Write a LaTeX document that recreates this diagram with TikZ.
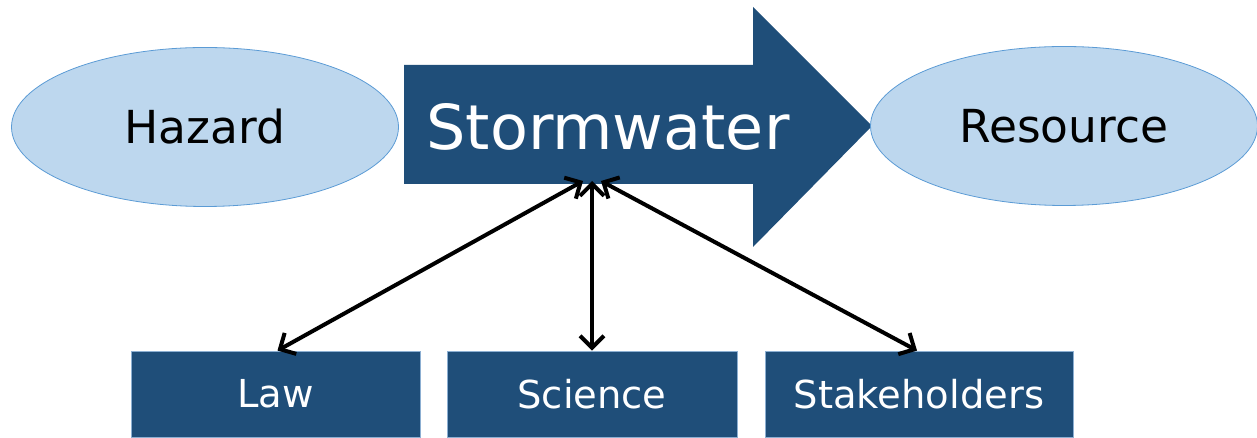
\documentclass[tikz,border=0pt]{standalone}
\usepackage{fontspec}
\setmainfont{DejaVu Sans}
\usetikzlibrary{arrows.meta,shapes.geometric}
\definecolor{navy}{RGB}{31,78,121}
\definecolor{paleblue}{RGB}{189,215,238}
\definecolor{edgeblue}{RGB}{91,155,213}
\definecolor{boxedge}{RGB}{140,175,210}
\tikzset{
  x=1pt, y=1pt,
  oval/.style={ellipse, fill=paleblue, draw=edgeblue, line width=0.8pt,
    minimum width=387, minimum height=159, inner sep=0pt, font=\fontsize{45.5}{46}\selectfont},
  pillar/.style={rectangle, fill=navy, draw=boxedge, line width=0.8pt,
    minimum height=86, inner sep=0pt, text=white, font=\fontsize{38.5}{39}\selectfont},
  link/.style={line width=4pt, {Straight Barb[length=12pt,width=24pt]}-{Straight Barb[length=12pt,width=24pt]}}
}
\begin{document}
\begin{tikzpicture}
\useasboundingbox (0,0) rectangle (1257,438);
% big flow arrow: body and head
\fill[navy] (404,373) -- (753,373) -- (753,431) -- (872,312) -- (753,191) -- (753,254) -- (404,254) -- cycle;
\node[inner sep=0pt, text=white,
  font=\fontsize{62}{62}\selectfont] (storm) at (608,311) {Stormwater};
\coordinate (hub) at (592,257);
% end states
\node[oval] (hazard) at (205,311) {Hazard};
\node[oval] (resource) at (1064,312) {Resource};
% supporting pillars
\node[pillar, minimum width=289] (law) at (275.5,44) {Law};
\node[pillar, minimum width=290] (science) at (592,44) {Science};
\node[pillar, minimum width=308] (stake) at (919,44) {Stakeholders};
% two-way links
\draw[link] ([xshift=-9]hub) -- ([xshift=2]law.north);
\draw[link] (hub) -- (science.north);
\draw[link] ([xshift=9]hub) -- ([xshift=-2]stake.north);
\end{tikzpicture}
\end{document}
